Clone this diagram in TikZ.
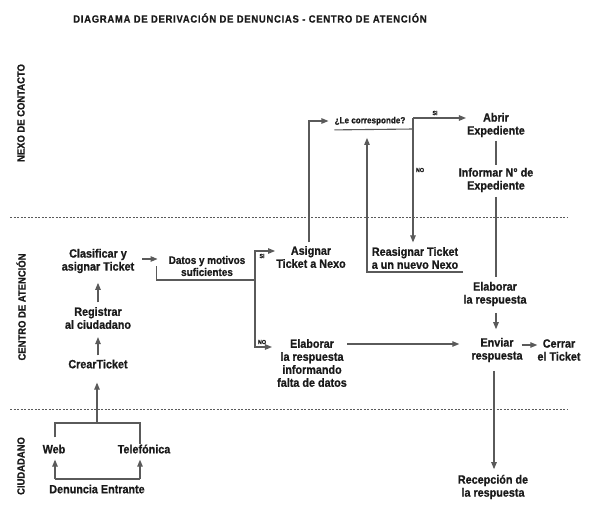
\documentclass[tikz,border=0pt]{standalone}
\usepackage{fontspec}
\setmainfont{Liberation Sans}[FakeStretch=0.9, BoldFeatures={FakeBold=0.8}]
\newfontfamily\titlefont{Liberation Sans}[FakeStretch=0.9,LetterSpace=7, BoldFeatures={FakeBold=0.8}]
\usetikzlibrary{arrows.meta}
\definecolor{lc}{HTML}{5A5A5A}
\definecolor{txt}{HTML}{1A1A1A}
\begin{document}
\begin{tikzpicture}[x=1pt,y=-1pt,
  lbl/.style={font=\bfseries\fontsize{12}{13}\selectfont, align=center, inner sep=0pt, text=txt},
  lblsm/.style={font=\bfseries\fontsize{11}{12}\selectfont, align=center, inner sep=0pt, text=txt},
  tiny/.style={font=\bfseries\fontsize{6}{6}\selectfont, inner sep=0pt, text=txt},
  qlbl/.style={font=\bfseries\fontsize{9}{10}\selectfont, inner xsep=0pt, inner ysep=4.5pt, text=txt},
  side/.style={font=\bfseries\fontsize{10.5}{11}\selectfont, rotate=90, inner sep=0pt, text=txt},
  ttl/.style={font=\titlefont\bfseries\fontsize{10.5}{11}\selectfont, inner sep=0pt, text=txt},
  ln/.style={draw=lc, line width=1.1pt},
  arr/.style={ln, -{Triangle[length=7pt,width=5.5pt]}},
  sep/.style={draw=lc, line width=0.7pt, dash pattern=on 2pt off 1.5pt}]
\useasboundingbox (0,0) rectangle (594,528);

% title and lane labels
\node[ttl] (title) at (250,18) {DIAGRAMA DE DERIVACIÓN DE DENUNCIAS - CENTRO DE ATENCIÓN};
\node[side] (nexo) at (21,113) {NEXO DE CONTACTO};
\node[side] (centro) at (21,307) {CENTRO DE ATENCIÓN};
\node[side] (ciud) at (21,466) {CIUDADANO};

% lane separators
\coordinate (s1a) at (10,217); \coordinate (s1b) at (568,217);
\coordinate (s2a) at (10,409); \coordinate (s2b) at (568,409);
\draw[sep] (s1a) -- (s1b);
\draw[sep] (s2a) -- (s2b);

% nodes
\node[lbl] (clas) at (98,261) {Clasificar y\\asignar Ticket};
\node[lbl] (reg) at (98,318) {Registrar\\al ciudadano};
\node[lbl] (crear) at (98,364) {CrearTicket};
\node[lbl] (web) at (54,449) {Web};
\node[lbl] (tel) at (144,449) {Telefónica};
\node[lbl] (den) at (97,489) {Denuncia Entrante};
\node[lblsm] (datos) at (207,266) {Datos y motivos\\suficientes};
\node[lbl] (asig) at (311,257) {Asignar\\Ticket a Nexo};
\node[lbl] (elabno) at (312,363) {Elaborar\\la respuesta\\informando\\falta de datos};
\node[qlbl] (lec) at (370,121) {¿Le corresponde?};
\node[lbl] (reas) at (415,258) {Reasignar Ticket\\a un nuevo Nexo};
\node[lbl] (abrir) at (496,125) {Abrir\\Expediente};
\node[lbl] (inf) at (496,180) {Informar N° de\\Expediente};
\node[lbl] (elab) at (495,294) {Elaborar\\la respuesta};
\node[lbl] (env) at (497,350) {Enviar\\respuesta};
\node[lbl] (cerrar) at (559,350) {Cerrar\\el Ticket};
\node[lbl] (recep) at (493,487) {Recepción de\\la respuesta};

% small branch labels
\node[tiny] (si1) at (262,256) {SI};
\node[tiny] (no1) at (262,342) {NO};
\node[tiny] (si2) at (435,113) {SI};
\node[tiny] (no2) at (420,170) {NO};

% helper coordinates
\coordinate (jct) at (97,423);
\coordinate (dl) at (55,479);
\coordinate (dr) at (140,479);
\coordinate (br) at (255,280);
\coordinate (top) at (413,118);
\coordinate (k) at (413,129);
\coordinate (rr) at (463,272);

% citizen lane
\draw[ln] (dl) -- (dr);
\draw[arr, shorten >=6pt] (dl) -- (dl |- web.south);
\draw[arr, shorten >=6pt] (dr) -- (dr |- tel.south);
\draw[ln, shorten <=7pt] (web.north -| dl) |- (jct) -| ([xshift=-4pt]tel.north);
\draw[arr, shorten >=14pt] (jct) -- (jct |- crear.south);

% attention lane left column
\draw[arr, shorten <=4pt, shorten >=8pt] (crear.north) -- (reg.south);
\draw[arr, shorten <=4.5pt, shorten >=9.5pt] (reg.north) -- (clas.south);
\draw[arr, shorten <=8pt, shorten >=11pt] (clas.east |- 0,259) -- (datos.west |- 0,259);

% decision on data
\draw[ln] ([xshift=-12pt]datos.west) |- (br);
\draw[arr, shorten >=1pt] (br) |- ([yshift=6pt]asig.west);
\draw[arr, shorten >=5pt] (br) |- ([yshift=16pt]elabno.west);

% nexo decision
\draw[arr, shorten <=3.5pt, shorten >=6pt] ([xshift=-2pt]asig.north) |- (lec.west);
\draw[ln] (lec.south west) -- (k);
\draw[arr, shorten >=4.5pt] (top) -- (top |- reas.north);
\draw[arr, shorten >=1pt] (top) -- (abrir.west |- top);
\draw[arr, shorten >=8pt] (rr) -| ([xshift=-3pt]lec.south);

% right column
\draw[ln, shorten <=3.5pt, shorten >=2.5pt] (abrir.south) -- (abrir.south |- inf.north);
\draw[ln, shorten <=4.5pt, shorten >=4.5pt] (inf.south) -- (inf.south |- elab.north);
\draw[arr, shorten <=6.5pt, shorten >=8.5pt] ([xshift=1pt]elab.south) -- ([xshift=1pt]elab.south |- env.north);
\draw[arr, shorten >=12pt] (elabno.east |- 0,344) -- (env.west |- 0,344);
\draw[arr, shorten <=-1pt, shorten >=0pt] (env.east |- 0,345) -- (cerrar.west |- 0,345);
\draw[arr, shorten <=8.5pt, shorten >=5.5pt] ([xshift=-3pt]env.south) -- ([xshift=-3pt]env.south |- recep.north);
\end{tikzpicture}
\end{document}
